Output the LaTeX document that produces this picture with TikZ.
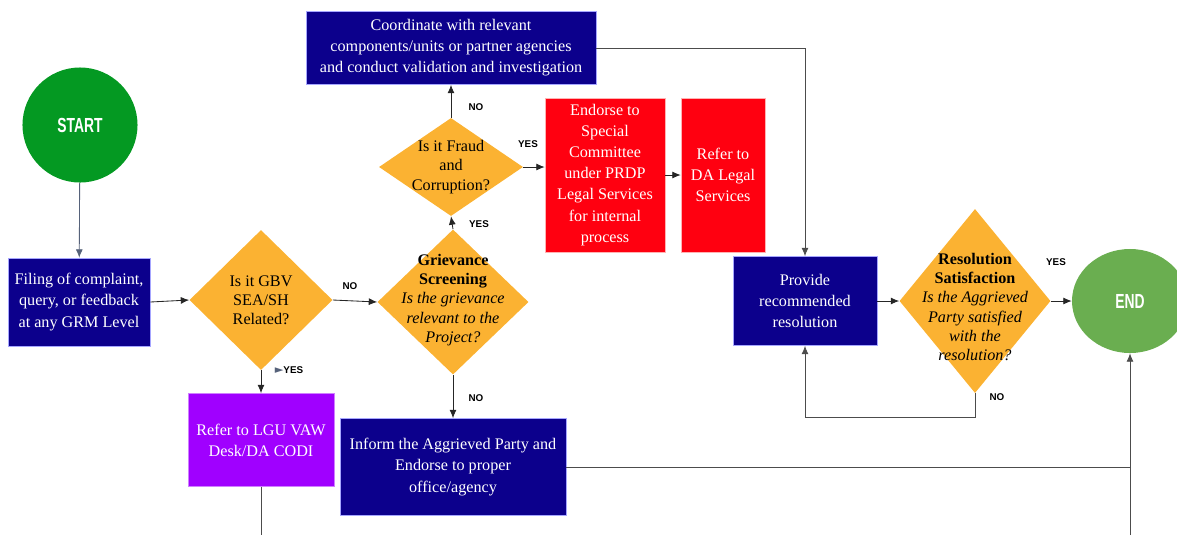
\documentclass[tikz,border=0pt]{standalone}
\usepackage{fontspec}
\setmainfont{Liberation Serif}
\newfontfamily\labelfont{Liberation Sans}
\newfontfamily\capfont{Liberation Sans}
\newfontfamily\symfont{DejaVu Sans}
\usepackage{tikz}
\usetikzlibrary{shapes,arrows,arrows.meta}

\definecolor{navy}{RGB}{12,0,140}
\definecolor{gold}{RGB}{251,178,50}
\definecolor{alertred}{RGB}{255,0,16}
\definecolor{vawpurple}{RGB}{160,0,255}
\definecolor{startgreen}{RGB}{4,153,34}
\definecolor{endgreen}{RGB}{106,174,80}
\definecolor{slate}{RGB}{86,98,122}

\newcommand{\narrowcap}[1]{\scalebox{0.68}[1]{#1}}

\tikzstyle{arrow} = [->,>={Latex[length=6pt,width=5pt]},line width=0.6pt,draw=black!85]
\tikzstyle{line} = [line width=0.6pt,draw=black!70]
\tikzstyle{darkbox} = [rectangle, fill=navy, draw=blue!35, line width=0.4pt, text=white, align=center, font=\fontsize{11.5}{15}\selectfont]
\tikzstyle{redbox} = [darkbox, fill=alertred, draw=red!30]
\tikzstyle{decision} = [diamond, fill=gold, inner sep=0pt]
\tikzstyle{decisiontext} = [align=center, font=\fontsize{11.5}{13.6}\selectfont]
\tikzstyle{terminal} = [ellipse, text=white, font=\capfont\bfseries\fontsize{14.5}{15}\selectfont]
\tikzstyle{answer} = [font=\labelfont\bfseries\fontsize{7}{8}\selectfont]

\begin{document}
\begin{tikzpicture}[x=0.025cm,y=-0.025cm]
        \useasboundingbox (0,0) rectangle (1177,535);
        \clip (0,0) rectangle (1177,535);

        % start and entry
        \node (start) [terminal, fill=startgreen, minimum width=2.875cm, minimum height=2.875cm] at (80,125) {\narrowcap{START}};
        \node (filing) [darkbox, minimum width=3.55cm, minimum height=2.2cm] at (79,302) {Filing of complaint,\\query, or feedback\\at any GRM Level};

        % decisions
        \node (gbv) [decision, minimum width=3.575cm, minimum height=3.5cm] at (261,300) {};
        \node (gbvtext) [decisiontext] at (gbv.center) {Is it GBV\\SEA/SH\\Related?};
        \node (screen) [decision, minimum width=3.775cm, minimum height=3.625cm] at (453,302) {};
        \node (screentext) [decisiontext] at (453,300) {\textbf{Grievance}\\\textbf{Screening}\\\textit{Is the grievance}\\\textit{relevant to the}\\\textit{Project?}};
        \node (fraud) [decision, minimum width=3.6cm, minimum height=2.45cm] at (451,167) {};
        \node (fraudtext) [decisiontext] at (fraud.center) {Is it Fraud\\and\\Corruption?};
        \node (satisf) [decision, minimum width=3.775cm, minimum height=4.6cm] at (975,301) {};
        \node (satisftext) [decisiontext] at (975,307) {\textbf{Resolution}\\\textbf{Satisfaction}\\\textit{Is the Aggrieved}\\\textit{Party satisfied}\\\textit{with the}\\\textit{resolution?}};

        % actions
        \node (coord) [darkbox, minimum width=7.25cm, minimum height=1.825cm] at (451,48) {Coordinate with relevant\\components/units or partner agencies\\and conduct validation and investigation};
        \node (endorse) [redbox, minimum width=3cm, minimum height=3.85cm] at (605,175) {Endorse to\\Special\\Committee\\under PRDP\\Legal Services\\for internal\\process};
        \node (legal) [redbox, minimum width=2.1cm, minimum height=3.85cm] at (723,175) {Refer to\\DA Legal\\Services};
        \node (provide) [darkbox, minimum width=3.6cm, minimum height=2.225cm] at (805,301) {Provide\\recommended\\resolution};
        \node (vaw) [darkbox, fill=vawpurple, draw=vawpurple!50, minimum width=3.65cm, minimum height=2.325cm] at (261,440) {Refer to LGU VAW\\Desk/DA CODI};
        \node (inform) [darkbox, minimum width=5.65cm, minimum height=2.425cm] at (453,467) {Inform the Aggrieved Party and\\Endorse to proper\\office/agency};
        \node (end) [terminal, fill=endgreen, minimum width=2.9cm, minimum height=2.6cm] at (1130,301) {\narrowcap{END}};

        \coordinate (vawout) at (261,535);
        \coordinate (endin) at (1130,535);

        % connectors
        \draw [arrow, draw=slate] (start) -- (filing);
        \draw [arrow] (filing.east) -- (gbv.west);
        \draw [arrow] (gbv.east) -- (screen.west);
        \draw [arrow] (gbv.south) -- (vaw.north);
        \draw [line] (vaw.south) -- (vawout);
        \draw [arrow] (screen.north) -- (fraud.south);
        \draw [arrow] (screen.south) -- (inform.north);
        \draw [arrow] (fraud.north) -- (coord.south);
        \draw [arrow] (fraud.east) -- (endorse.west |- fraud.east);
        \draw [arrow] (endorse.east) -- (legal.west);
        \draw [arrow, draw=black!70] (coord.east) -| (provide.north);
        \draw [arrow] (provide.east) -- (satisf.west);
        \draw [arrow] (satisf.east) -- (end.west);
        \draw [arrow, draw=black!70] (satisf.south) -- ++(0,24) -| (provide.south);
        \draw [line] (inform.east) -- (inform.east -| end.south);
        \draw [arrow, draw=black!70] (endin) -- (end.south);

        % answers
        \node (gbvno) [answer] at (350,286) {NO};
        \node (gbvyes) [answer] at (289,370) {{\color{slate}\symfont\fontsize{8}{8}\selectfont ►}YES};
        \node (screenyes) [answer] at (479,224) {YES};
        \node (screenno) [answer] at (476,398) {NO};
        \node (fraudno) [answer] at (476,107) {NO};
        \node (fraudyes) [answer] at (528,144) {YES};
        \node (satisfyes) [answer] at (1056,262) {YES};
        \node (satisfno) [answer] at (997,397) {NO};
\end{tikzpicture}
\end{document}
